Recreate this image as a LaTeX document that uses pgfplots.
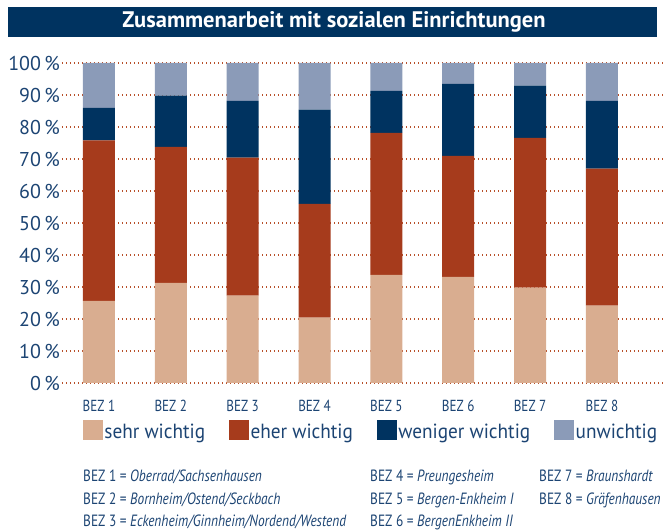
\documentclass[border=0pt]{standalone}
\usepackage{fontspec}
\setmainfont{PT Sans}
\newfontfamily\condensed[FakeStretch=0.82]{PT Sans}
\newfontfamily\legfont[FakeStretch=0.94]{PT Sans}
\usepackage{pgfplots}
\pgfplotsset{compat=1.18}
\definecolor{sehr}{HTML}{D9AD90}
\definecolor{eher}{HTML}{A63B1C}
\definecolor{weniger}{HTML}{003360}
\definecolor{unw}{HTML}{8B9BB8}
\definecolor{txt}{HTML}{1C4473}
\definecolor{gridc}{HTML}{B8502A}
\definecolor{titlebg}{HTML}{003360}
\pgfplotstableread{
x sehr eher weniger unw
0 25.7 50.1 10.2 14.0
1 31.3 42.5 16.0 10.2
2 27.3 43.1 17.8 11.8
3 20.4 35.6 29.4 14.6
4 33.8 44.4 13.1 8.7
5 33.2 37.8 22.5 6.5
6 29.8 46.8 16.3 7.1
7 24.2 42.8 21.2 11.8
}\data
\begin{document}
\begin{tikzpicture}[x=1pt,y=1pt]
\useasboundingbox (0,0) rectangle (667,530);
\fill[titlebg] (8,493) rectangle (657,523);
\node[text=white, font=\fontsize{22.5}{25}\selectfont\bfseries] at (334,508) {Zusammenarbeit mit sozialen Einrichtungen};
\begin{axis}[
  at={(62pt,147pt)}, anchor=south west, scale only axis,
  width=601pt, height=320pt,
  ybar stacked, bar width=32pt,
  xmin=-0.514, xmax=7.85, ymin=0, ymax=100,
  axis line style={draw=none}, tick style={draw=none},
  ymajorgrids, major grid style={gridc, line width=1.1pt, dash pattern=on 1.1pt off 2.9pt},
  ytick={0,10,...,100},
  yticklabel={\pgfmathprintnumber{\tick}\,\%},
  /pgf/number format/assume math mode=true,
  yticklabel style={font=\fontsize{20}{22}\selectfont, text=txt, inner sep=2pt},
  xtick={0,...,7},
  xticklabels={BEZ 1,BEZ 2,BEZ 3,BEZ 4,BEZ 5,BEZ 6,BEZ 7,BEZ 8},
  xticklabel style={font=\condensed\fontsize{16}{18}\selectfont, text=txt, yshift=-14pt},
  legend columns=4,
  legend style={at={(axis description cs:0.035,-0.115)}, anchor=north west, draw=none, inner sep=0pt,
    font=\legfont\fontsize{20.5}{24}\selectfont, text=txt, nodes={inner sep=1.2pt},
    /tikz/every even column/.append style={column sep=23pt}},
  legend image code/.code={\fill[#1] (0pt,-8pt) rectangle (20pt,12pt);},
]
\addplot[fill=sehr, draw=none] table[x=x,y=sehr]{\data};
\addplot[fill=eher, draw=none] table[x=x,y=eher]{\data};
\addplot[fill=weniger, draw=none] table[x=x,y=weniger]{\data};
\addplot[fill=unw, draw=none] table[x=x,y=unw]{\data};
\legend{sehr wichtig, eher wichtig, weniger wichtig, unwichtig}
\end{axis}
\begin{scope}[every node/.style={anchor=base west, inner sep=0pt, text=txt, font=\condensed\fontsize{16.3}{18}\selectfont}]
\node at (83,48) {BEZ 1 = \textit{Oberrad/Sachsenhausen}};
\node at (83,25.5) {BEZ 2 = \textit{Bornheim/Ostend/Seckbach}};
\node at (83,3) {BEZ 3 = \textit{Eckenheim/Ginnheim/Nordend/Westend}};
\node at (370,48) {BEZ 4 = \textit{Preungesheim}};
\node at (370,25.5) {BEZ 5 = \textit{Bergen-Enkheim I}};
\node at (370,3) {BEZ 6 = \textit{BergenEnkheim II}};
\node at (539,48) {BEZ 7 = \textit{Braunshardt}};
\node at (539,25.5) {BEZ 8 = \textit{Gräfenhausen}};
\end{scope}
\end{tikzpicture}
\end{document}
